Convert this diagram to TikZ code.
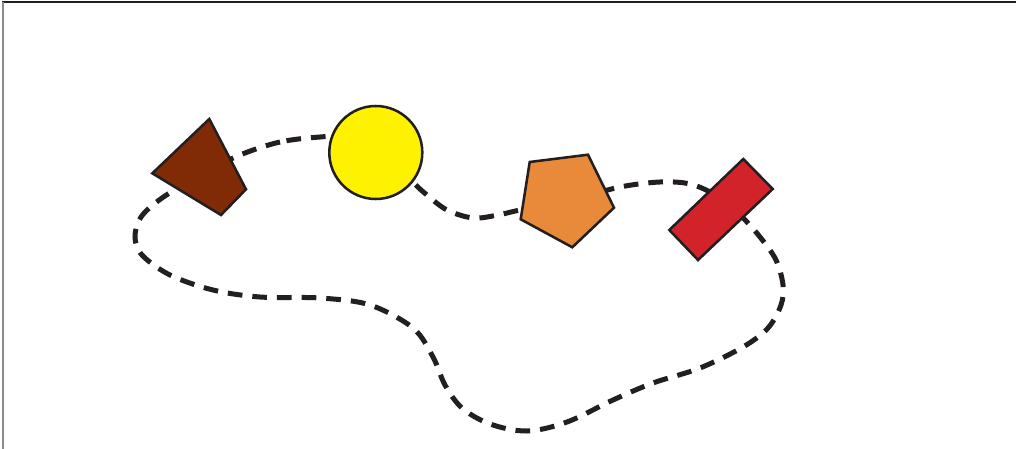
\documentclass[tikz,border=0pt]{standalone}
\definecolor{ink}{RGB}{35,31,32}
\definecolor{brownq}{RGB}{128,43,5}
\definecolor{yellowc}{RGB}{255,242,0}
\definecolor{orangep}{RGB}{232,138,58}
\definecolor{redr}{RGB}{210,35,42}
\definecolor{framegray}{RGB}{140,140,140}
\tikzset{
  shapeline/.style={draw=ink, line width=1.9pt, line join=miter},
  loopline/.style={draw=ink, line width=3.75pt, dash pattern=on 11pt off 7.5pt},
}
\begin{document}
\begin{tikzpicture}[x=0.75pt,y=-0.75pt]
\useasboundingbox (0,0) rectangle (1016,449);
\fill[white] (0,0) rectangle (1016,449);
% frame
\draw[ink, line width=0.9pt] (2,2) -- (1016,2);
\draw[framegray, line width=1.2pt] (2.7,2) -- (2.7,449);
% dashed closed loop
\draw[loopline] plot[smooth cycle, tension=0.55] coordinates {
 (320,137) (280,142) (240,155) (200,175) (162,198) (141,217) (135,237)
 (142,255) (170,275) (213,290) (260,297) (320,298) (370,305) (413,328)
 (433,357) (445,385) (462,408) (490,424) (527,431) (567,422) (613,400)
 (653,383) (700,368) (743,347) (768,328) (781,305) (783,285) (776,260)
 (760,237) (740,215) (715,195) (690,184) (660,182) (620,187) (575,199)
 (520,210) (498,215) (473,218) (447,210) (427,195) (413,182) (385,150)
 (350,137)};
% shapes
\draw[shapeline, fill=brownq] (209.3,119) -- (246,189.3) -- (221,215) -- (152.3,173.3) -- cycle;
\draw[shapeline, fill=yellowc] (375.8,152.5) circle (46.5);
\draw[shapeline, fill=orangep] (529.7,162) -- (588,154.7) -- (614,207.7) -- (572.3,247.3) -- (520.7,219.3) -- cycle;
\draw[shapeline, fill=redr] (743.3,159) -- (772.7,189) -- (698,260) -- (669.3,230) -- cycle;
\end{tikzpicture}
\end{document}
